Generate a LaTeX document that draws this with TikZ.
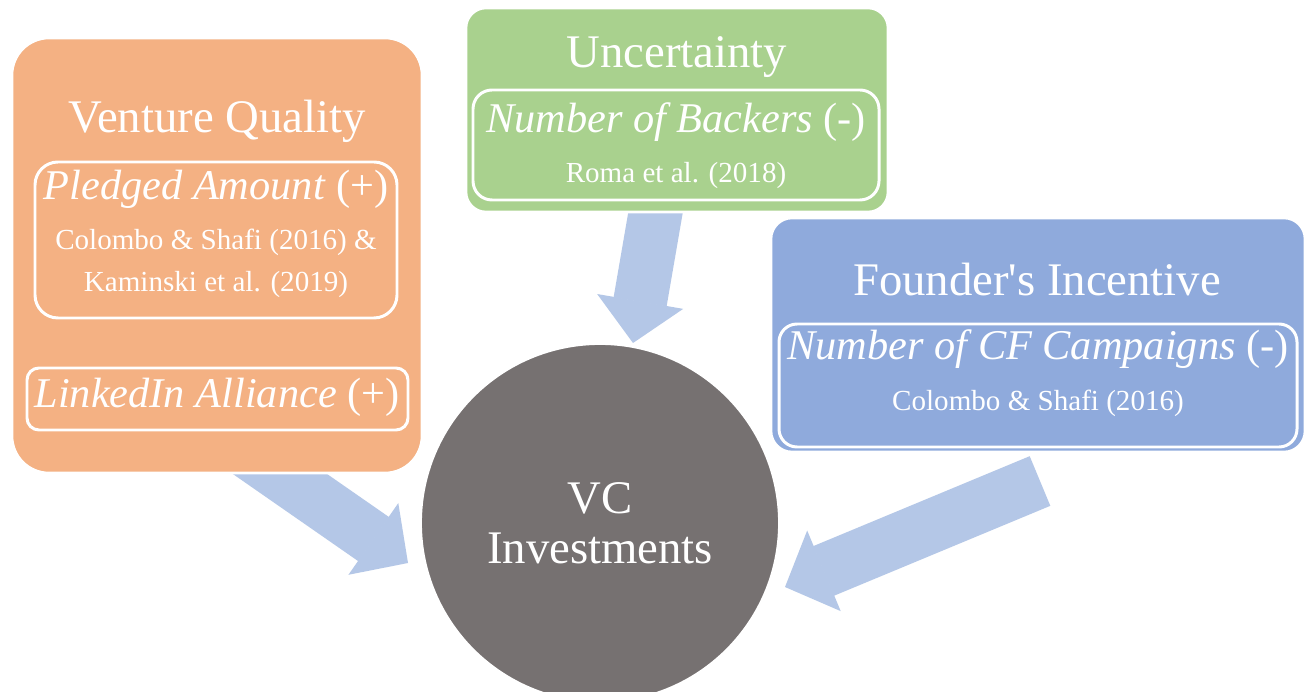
\documentclass[tikz,border=0pt]{standalone}
\usepackage{fontspec}
\setmainfont{Liberation Serif}
\usetikzlibrary{arrows.meta}
\usetikzlibrary{fit}
\usetikzlibrary{backgrounds}

\definecolor{vqorange}{HTML}{F4B183}
\definecolor{ungreen}{HTML}{A9D18E}
\definecolor{fiblue}{HTML}{8FAADC}
\definecolor{flowblue}{HTML}{B4C7E7}
\definecolor{vcgray}{HTML}{767171}

\tikzset{
  panel/.style={draw=white, line width=1.5pt, inner sep=0pt},
  subbox/.style={draw=white, line width=1.7pt, inner sep=0pt},
  heading/.style={text=white, anchor=base, inner sep=0pt, font=\fontsize{26.6}{32}\selectfont},
  factor/.style={text=white, anchor=base, inner sep=0pt, font=\fontsize{24.1}{29}\selectfont},
  source/.style={text=white, anchor=base, inner sep=0pt, font=\fontsize{16.55}{20}\selectfont},
  flow/.style={draw=flowblue, line width=30.6pt,
    -{Triangle[length=24pt, width=49.5pt, line width=1pt]}},
}

\begin{document}
\begin{tikzpicture}[x=0.02cm, y=-0.02cm]
\useasboundingbox (0,0) rectangle (1308,692);

% the three groups of determinants
\node[panel, fill=vqorange, rounded corners=0.74cm, fit={(12,38) (422,473)}] (quality) {};
\node[panel, fill=ungreen, rounded corners=0.4cm, fit={(466,8) (888,212)}] (uncert) {};
\node[panel, fill=fiblue, rounded corners=0.42cm, fit={(771,218) (1305,452)}] (incent) {};

% one white frame per variable
\node[subbox, rounded corners=0.46cm, fit={(35,162) (397,318)}] (pledged) {};
\node[subbox, rounded corners=0.24cm, fit={(27,368) (408,430)}] (linkedin) {};
\node[subbox, rounded corners=0.38cm, fit={(473,90) (879,200)}] (backers) {};
\node[subbox, rounded corners=0.36cm, fit={(779,324) (1297,447)}] (campaigns) {};

% outcome
\node[circle, fill=vcgray, draw=white, line width=1pt, minimum size=7.16cm, inner sep=0pt,
  text=white, align=center, font=\fontsize{26.6}{28.3}\selectfont] (vc) at (600,523) {VC\\Investments};

% Labels
\node[heading] (qualitytitle) at (217,133) {Venture Quality};
\node[factor] (pledgedtext) at (216,200) {\textit{Pledged Amount} (+)};
\node[source] (pledgedsrca) at (216,250) {Colombo \& Shafi (2016) \&};
\node[source] (pledgedsrcb) at (216,292) {Kaminski et al. (2019)};
\node[factor] (linkedintext) at (217,407) {\textit{LinkedIn Alliance} (+)};

\node[heading] (uncerttitle) at (677,68) {Uncertainty};
\node[factor] (backerstext) at (676,133) {\textit{Number of Backers} (-)};
\node[source] (backerssrc) at (676,183) {Roma et al. (2018)};

\node[heading] (incenttitle) at (1037,296) {Founder\textquotesingle s Incentive};
\node[factor] (campaignstext) at (1038,359) {\textit{Number of CF Campaigns} (-)};
\node[source] (campaignssrc) at (1038,410) {Colombo \& Shafi (2016)};

% block arrows, kept under the panels
\begin{scope}[on background layer]
  \fill[white] (0,0) rectangle (1308,692);
  \coordinate (qualityout) at (244,449);
  \coordinate (qualityin) at (408,563);
  \coordinate (uncertout) at (667,146);
  \coordinate (uncertin) at (633,343);
  \coordinate (incentout) at (1040,481);
  \coordinate (incentin) at (785,587);
  \foreach \from/\to in {qualityout/qualityin, uncertout/uncertin, incentout/incentin}
    \draw[flow] (\from) -- (\to);
\end{scope}
\end{tikzpicture}
\end{document}
